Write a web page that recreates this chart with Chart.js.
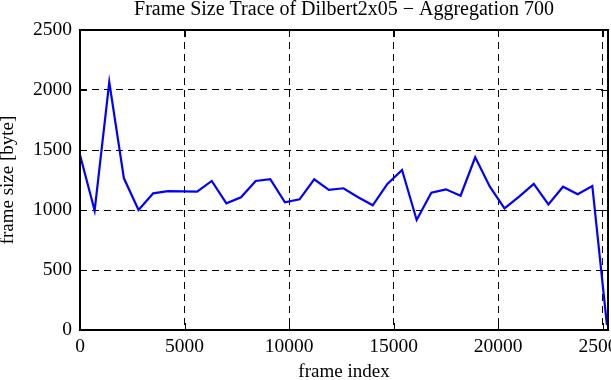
<!DOCTYPE html>
<html>
<head>
<meta charset="utf-8">
<script src="https://cdn.jsdelivr.net/npm/chart.js@4/dist/chart.umd.min.js"></script>
<style>
html,body{margin:0;padding:0;background:#fff;}
#wrap{width:611px;height:380px;}
</style>
</head>
<body>
<div id="wrap"><canvas id="c" width="611" height="380"></canvas></div>
<script>
const chartTitle = "Frame Size Trace of Dilbert2x05 \u2212 Aggregation 700";
const xAxisTitle = "frame index";
const yAxisTitle = "frame size [byte]";
const frameIndex = [0, 700, 1400, 2100, 2800, 3500, 4200, 4900, 5600, 6300, 7000, 7700, 8400, 9100, 9800, 10500, 11200, 11900, 12600, 13300, 14000, 14700, 15400, 16100, 16800, 17500, 18200, 18900, 19600, 20300, 21000, 21700, 22400, 23100, 23800, 24500, 25200];
const frameSize = [1458, 995, 2065, 1264, 1000, 1139, 1158, 1155, 1153, 1242, 1056, 1106, 1242, 1256, 1064, 1089, 1256, 1167, 1181, 1106, 1039, 1217, 1333, 917, 1144, 1172, 1119, 1439, 1194, 1014, 1111, 1217, 1047, 1194, 1131, 1200, 40];
const xTicks = [0, 5000, 10000, 15000, 20000, 25000];
const yTicks = [0, 500, 1000, 1500, 2000, 2500];
const xMax = 25250;
const yMax = 2500;

const points = frameIndex.map((x, i) => ({x: x, y: frameSize[i]}));

const serif = "'Liberation Serif', 'DejaVu Serif', serif";

const framePlugin = {
  id: 'gnuFrame',
  afterLayout(chart) {
    // centre the title over the plot area, as gnuplot does
    const tb = chart.titleBlock;
    if (tb) { tb.left = chart.chartArea.left; tb.right = chart.chartArea.right; }
  },
  afterDatasetsDraw(chart) {
    const ctx = chart.ctx;
    const a = chart.chartArea;
    const xs = chart.scales.x, ys = chart.scales.y;
    ctx.save();
    ctx.strokeStyle = '#000';
    ctx.lineWidth = 1;
    ctx.setLineDash([]);
    const tl = 7;
    ctx.beginPath();
    xTicks.forEach(v => {
      const px = Math.round(xs.getPixelForValue(v)) + 0.5;
      ctx.moveTo(px, a.bottom); ctx.lineTo(px, a.bottom - tl);
      ctx.moveTo(px, a.top); ctx.lineTo(px, a.top + tl);
    });
    yTicks.forEach(v => {
      const py = Math.round(ys.getPixelForValue(v)) + 0.5;
      ctx.moveTo(a.left, py); ctx.lineTo(a.left + tl, py);
      ctx.moveTo(a.right, py); ctx.lineTo(a.right - tl, py);
    });
    ctx.stroke();
    ctx.lineWidth = 2;
    ctx.strokeRect(a.left, a.top, a.right - a.left, a.bottom - a.top);
    ctx.restore();
  }
};

new Chart(document.getElementById('c'), {
  type: 'line',
  data: {
    datasets: [{
      data: points,
      borderColor: '#0000ff',
      backgroundColor: '#0000ff',
      borderWidth: 2.2,
      pointRadius: 0,
      tension: 0,
      fill: false
    }]
  },
  options: {
    responsive: false,
    animation: false,
    devicePixelRatio: 1,
    layout: { padding: { left: 0, right: 3, top: 0, bottom: 0 } },
    plugins: {
      legend: { display: false },
      tooltip: { enabled: false },
      title: {
        display: true,
        text: chartTitle,
        color: '#000',
        font: { family: serif, size: 20, weight: 'normal', lineHeight: 0.76 },
        padding: { top: 2, bottom: 12.8 }
      }
    },
    scales: {
      x: {
        type: 'linear',
        min: 0,
        max: xMax,
        afterBuildTicks: s => { s.ticks = xTicks.map(v => ({value: v})); },
        afterFit: s => { s.height = 50; s.paddingLeft = 0; s.paddingRight = 0; },
        ticks: {
          color: '#000',
          font: { family: serif, size: 19.5 },
          padding: 5,
          maxRotation: 0,
          autoSkip: false,
          callback: v => String(v)
        },
        grid: { color: '#000', lineWidth: 1, drawTicks: false },
        border: { display: false, dash: [7, 5] },
        title: {
          display: true,
          text: xAxisTitle,
          color: '#000',
          font: { family: serif, size: 19, lineHeight: 0.8 },
          padding: { top: 0, bottom: 0 }
        }
      },
      y: {
        type: 'linear',
        min: 0,
        max: yMax,
        afterBuildTicks: s => { s.ticks = yTicks.map(v => ({value: v})); },
        afterFit: s => { s.width = 80; s.paddingTop = 0; s.paddingBottom = 0; },
        ticks: {
          color: '#000',
          font: { family: serif, size: 19.5 },
          padding: 8,
          autoSkip: false,
          callback: v => String(v)
        },
        grid: { color: '#000', lineWidth: 1, drawTicks: false },
        border: { display: false, dash: [7, 5] },
        title: {
          display: true,
          text: yAxisTitle,
          color: '#000',
          font: { family: serif, size: 19, lineHeight: 0.8 },
          padding: { top: 0, bottom: 0 }
        }
      }
    }
  },
  plugins: [framePlugin]
});
</script>
</body>
</html>
